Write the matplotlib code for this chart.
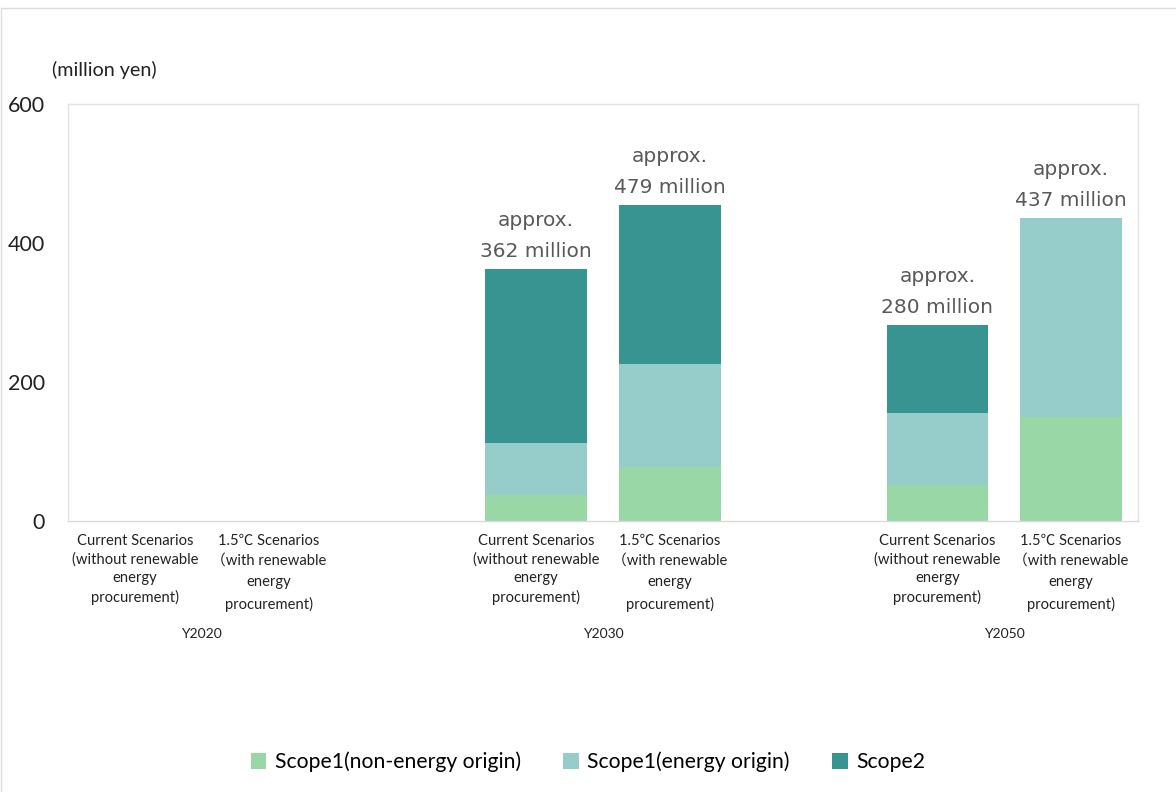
import numpy as np
import matplotlib.pyplot as plt
from matplotlib.patches import Rectangle

# data (million yen)
categories = ["Current Scenarios\n(without renewable\nenergy\nprocurement)",
              "1.5\u2103 Scenarios\n\uff08with renewable\nenergy\nprocurement)"] * 3
years = ["Y2020", "Y2030", "Y2050"]
scope1_non_energy = [0, 0, 38, 78, 52, 150]
scope1_energy = [0, 0, 74, 148, 103, 286]
scope2 = [0, 0, 250, 228, 127, 0]
totals_text = ["", "", "approx.\n362 million", "approx.\n479 million",
               "approx.\n280 million", "approx.\n437 million"]

c_green = "#9AD7A7"
c_light = "#96CDCA"
c_dark = "#389490"

plt.rcParams['font.family'] = ['Lato', 'Noto Sans CJK JP', 'DejaVu Sans']

fig = plt.figure(figsize=(11.76, 7.92), dpi=100)
ax = fig.add_axes([68/1176, 1-521/792, 1070/1176, 417/792])

x = np.array([0, 1, 3, 4, 6, 7])
w = 0.76
a = np.array(scope1_non_energy)
b = np.array(scope1_energy)
c = np.array(scope2)
ax.bar(x, a, w, color=c_green, label="Scope1(non-energy origin)")
ax.bar(x, b, w, bottom=a, color=c_light, label="Scope1(energy origin)")
ax.bar(x, c, w, bottom=a + b, color=c_dark, label="Scope2")

for xi, top, t in zip(x, a + b + c, totals_text):
    if t:
        ax.annotate(t, (xi, top), xytext=(0, 6), textcoords="offset points",
                    ha="center", va="bottom", fontsize=14.5, color="#595959",
                    family="DejaVu Sans", linespacing=1.8)

ax.set_xlim(-0.5, 7.5)
ax.set_ylim(0, 600)
ax.set_yticks([0, 200, 400, 600])
ax.tick_params(axis="y", length=0, labelsize=15.5, pad=16.5, labelcolor="#222222")
ax.set_xticks([])
for s in ax.spines.values():
    s.set_color("#E3E3E3")
    s.set_linewidth(1)
ax.spines["bottom"].set_color("#D9D9D9")

for i, (xi, lab) in enumerate(zip(x, categories)):
    ls = 1.4 if i % 2 == 0 else 1.6
    ax.text(xi, -19, lab, ha="center", va="top", fontsize=10.6,
            color="#222222", linespacing=ls)

for i, yr in enumerate(years):
    ax.text(x[2 * i] + 0.5, -162, yr, ha="center", va="center",
            fontsize=10, color="#222222")

fig.text(52/1176, 1-70/792, "(million yen)", ha="left", va="center",
         fontsize=14.2, color="#222222")

fig.legend(loc="center", bbox_to_anchor=(0.5, 1-762/792), ncol=3,
           frameon=False, fontsize=15.2, handlelength=0.75, handleheight=0.75,
           columnspacing=2.0, handletextpad=0.4)

fig.patches.append(Rectangle((1/1176, -0.1), 1.2, 1.0 - 8/792 + 0.1,
                             transform=fig.transFigure, fill=False,
                             edgecolor="#DDDDDD", linewidth=1))

fig.savefig("out.png", dpi=100)
